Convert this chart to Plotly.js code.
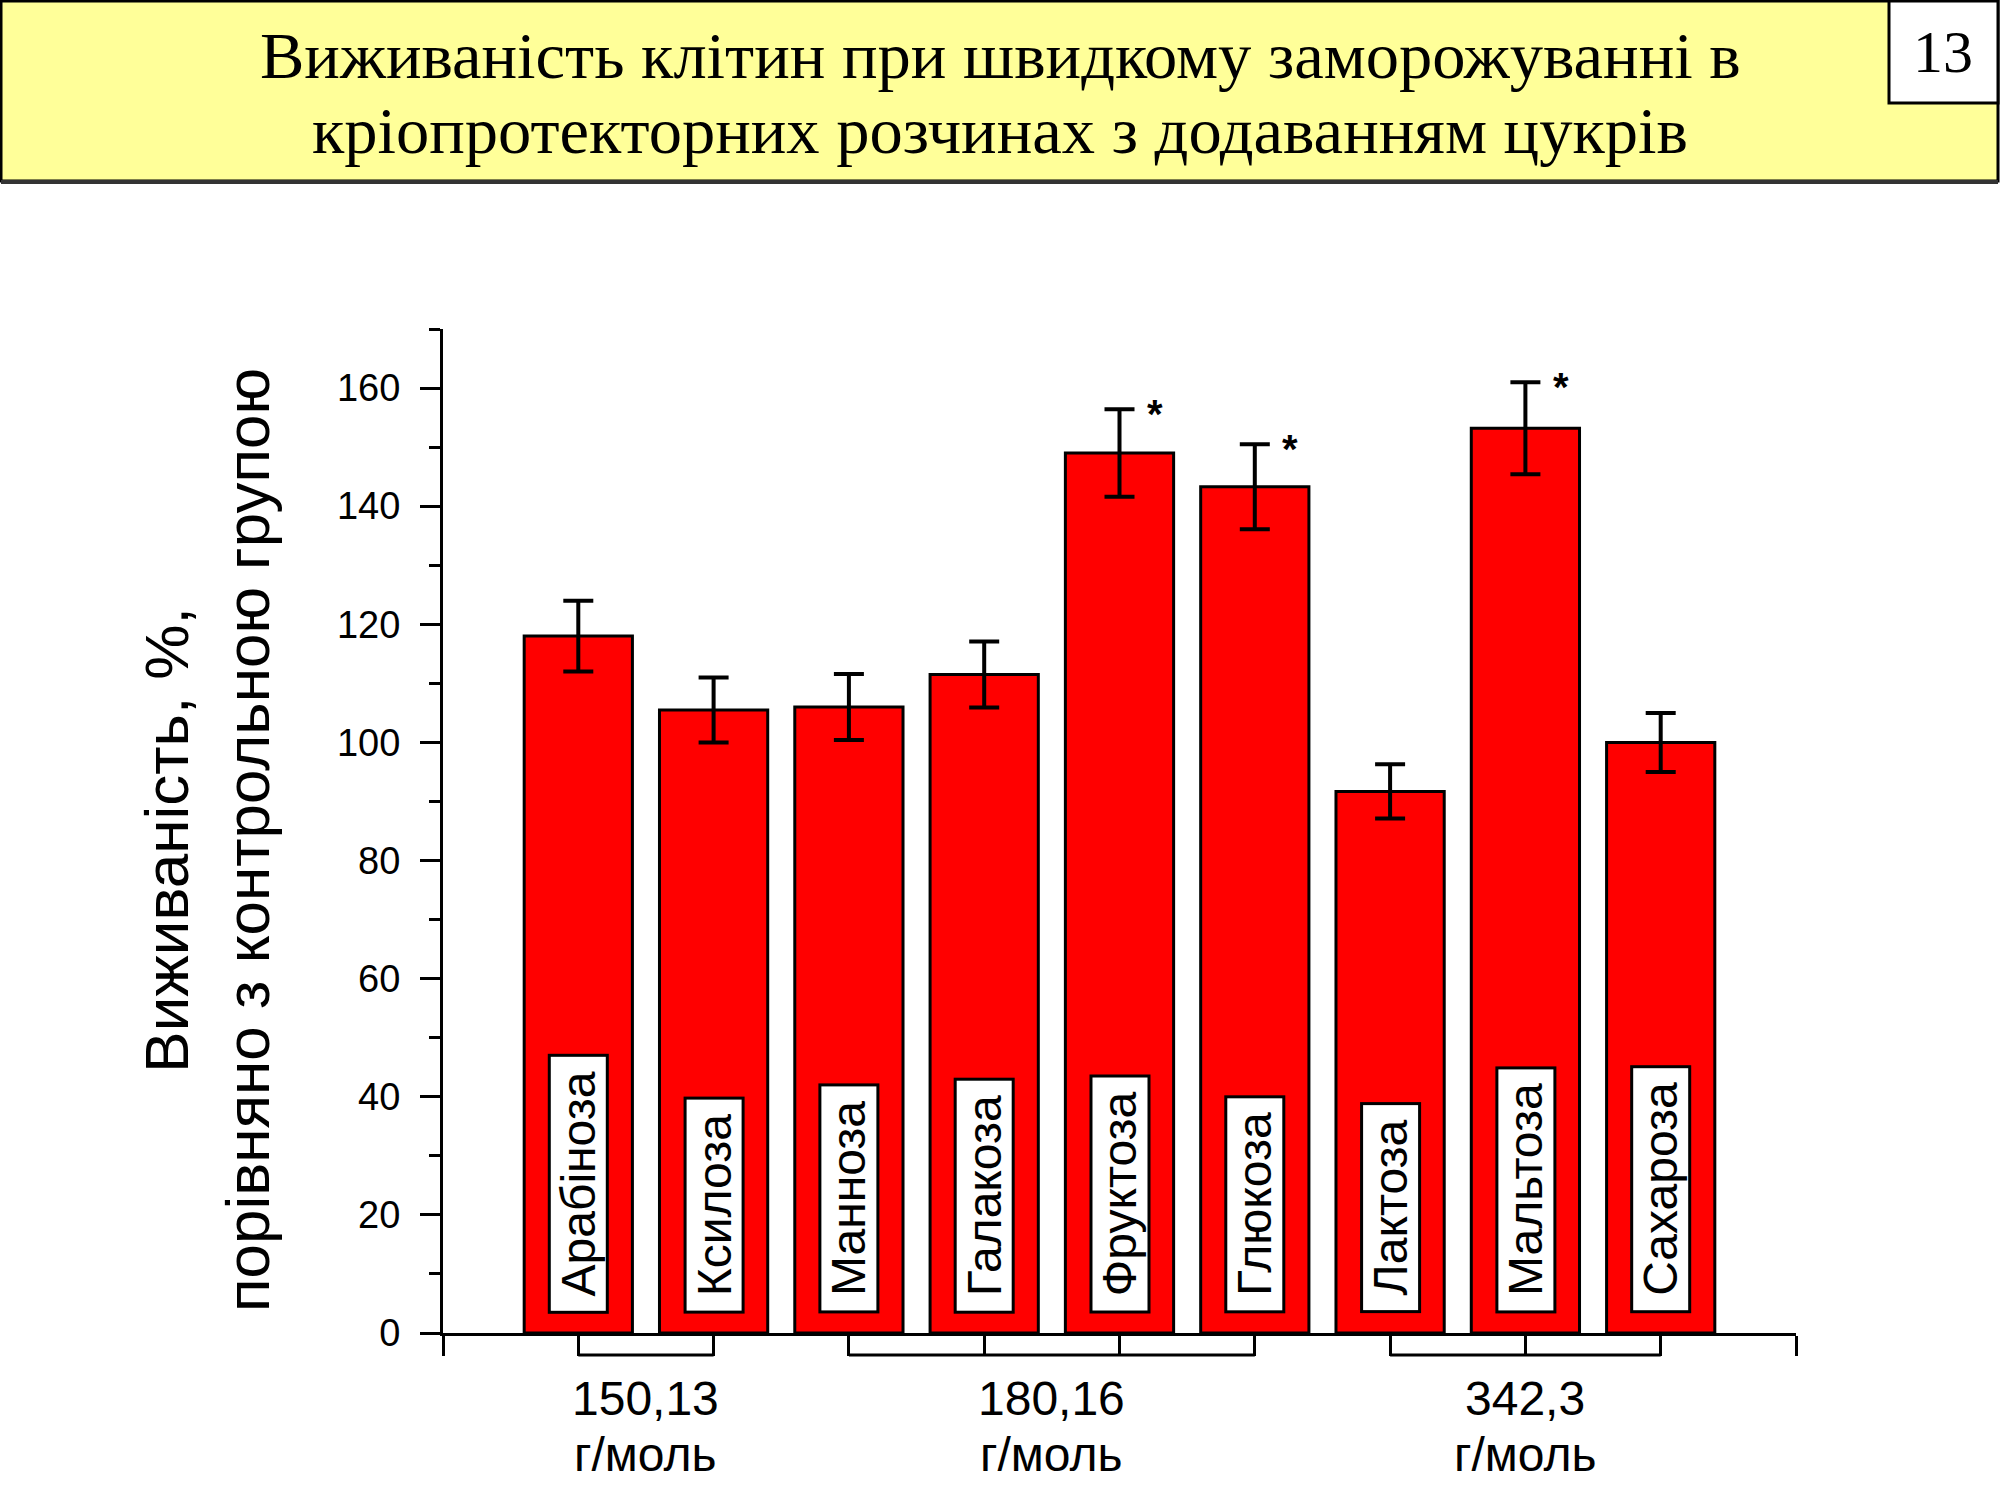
<!DOCTYPE html>
<html>
<head>
<meta charset="utf-8">
<script src="https://cdn.plot.ly/plotly-3.0.1.min.js"></script>
<style>
  body { margin: 0; background: white; }
  #plot { width: 2000px; height: 1500px; }
</style>
</head>
<body>
<div id="plot"></div>
<script>
// data
let sugars = ["Арабіноза", "Ксилоза", "Манноза", "Галакоза", "Фруктоза", "Глюкоза", "Лактоза", "Мальтоза", "Сахароза"]
let survival = [118, 105.5, 106, 111.5, 149, 143.3, 91.7, 153.2, 100]
let errors = [6, 5.5, 5.6, 5.6, 7.4, 7.2, 4.6, 7.8, 5]
let significant = [false, false, false, false, true, true, false, true, false]
// molar mass groups: first and last sugar index of each bracket
let groupStart = [0, 2, 6]
let groupEnd = [1, 5, 8]
let groupMass = ["150,13", "180,16", "342,3"]
let groupUnit = "г/моль"
let yTicks = [0, 20, 40, 60, 80, 100, 120, 140, 160]

let titleLines = ["Виживаність клітин при швидкому заморожуванні в", "кріопротекторних розчинах з додаванням цукрів"]
let slideNumber = "13"
let yTitle = "Виживаність, %,<br>порівняно з контрольною групою"

const W = 2000, H = 1500
const M = {l: 443, r: 204, t: 329, b: 167}
// page pixels -> paper coordinates
function px(x){ return (x - M.l) / (W - M.l - M.r) }
function py(y){ return (H - M.b - y) / (H - M.t - M.b) }

let sans = "Liberation Sans, Arial, sans-serif"
let serif = "Liberation Serif, Times New Roman, serif"

let xs = sugars.map((s, i) => i + 1)
let allTicks = []
for (let i = 0; i <= sugars.length + 1; i++) allTicks.push(i)

let data = [{
    type: "bar",
    x: xs,
    y: survival,
    width: 0.8,
    marker: {color: "#FF0000", line: {color: "black", width: 3}},
    error_y: {type: "data", array: errors, visible: true, color: "black", thickness: 4, width: 15},
    hoverinfo: "none"
}]

let annotations = []
let shapes = []

// sugar name boxes inside bars
for (let i = 0; i < sugars.length; i++){
    annotations.push({
        x: xs[i], y: 3.3, xref: "x", yref: "y",
        text: " " + sugars[i] + " ",
        textangle: -90,
        showarrow: false,
        xanchor: "center", yanchor: "bottom",
        bgcolor: "white", bordercolor: "black", borderwidth: 3, borderpad: 1,
        font: {family: sans, size: 48, color: "black"}
    })
    if (significant[i]){
        annotations.push({
            x: xs[i] + 0.26, y: survival[i] + errors[i], xref: "x", yref: "y",
            text: "<b>*</b>", showarrow: false,
            xanchor: "center", yanchor: "middle", yshift: -5,
            font: {family: sans, size: 40, color: "black"}
        })
    }
}

// brackets and molar mass labels under the axis
for (let g = 0; g < groupMass.length; g++){
    let a = xs[groupStart[g]], b = xs[groupEnd[g]]
    shapes.push({
        type: "line", xref: "x", yref: "paper", ysizemode: "pixel", yanchor: 0,
        x0: a, x1: b, y0: -22, y1: -22,
        line: {color: "black", width: 3}
    })
    annotations.push({
        x: (a + b) / 2, y: 0, xref: "x", yref: "paper", yanchor: "middle", yshift: -65,
        text: groupMass[g], showarrow: false,
        font: {family: sans, size: 48, color: "black"}
    })
    annotations.push({
        x: (a + b) / 2, y: 0, xref: "x", yref: "paper", yanchor: "middle", yshift: -121,
        text: groupUnit, showarrow: false,
        font: {family: sans, size: 48, color: "black"}
    })
}

// y axis title
annotations.push({
    x: 0, y: py(840), xref: "paper", yref: "paper",
    xanchor: "right", yanchor: "middle", xshift: -159,
    text: yTitle, textangle: -90, showarrow: false, align: "center",
    font: {family: sans, size: 62, color: "black"}
})

// slide banner
shapes.push({
    type: "rect", xref: "paper", yref: "paper", layer: "below",
    x0: px(1), x1: px(1998), y0: py(1), y1: py(181),
    fillcolor: "#FFFF99", line: {color: "black", width: 3}
})
shapes.push({
    type: "line", xref: "paper", yref: "paper",
    x0: px(1), x1: px(1998), y0: py(182), y1: py(182),
    line: {color: "#333333", width: 4}
})
shapes.push({
    type: "rect", xref: "paper", yref: "paper",
    x0: px(1889), x1: px(1998), y0: py(1), y1: py(103),
    fillcolor: "white", line: {color: "black", width: 3}
})
annotations.push({
    x: px(1943), y: py(52), xref: "paper", yref: "paper",
    xanchor: "center", yanchor: "middle",
    text: slideNumber, showarrow: false,
    font: {family: serif, size: 60, color: "black"}
})
let titleY = [55, 131]
for (let k = 0; k < titleLines.length; k++){
    annotations.push({
        x: px(1000), y: py(titleY[k]), xref: "paper", yref: "paper",
        xanchor: "center", yanchor: "middle",
        text: titleLines[k], showarrow: false,
        font: {family: serif, size: 66.5, color: "black"}
    })
}

let layout = {
    width: W, height: H,
    margin: M,
    paper_bgcolor: "white", plot_bgcolor: "white",
    showlegend: false,
    xaxis: {
        range: [0, sugars.length + 1],
        tickvals: allTicks,
        showticklabels: false,
        ticks: "outside", ticklen: 20, tickwidth: 3, tickcolor: "black",
        showline: true, linewidth: 3, linecolor: "black",
        showgrid: false, zeroline: false, fixedrange: true
    },
    yaxis: {
        range: [0, 170],
        tickvals: yTicks,
        ticks: "outside", ticklen: 20, tickwidth: 3, tickcolor: "black",
        minor: {dtick: 10, ticks: "outside", ticklen: 11, tickwidth: 3, tickcolor: "black"},
        showline: true, linewidth: 3, linecolor: "black",
        showgrid: false, zeroline: false,
        tickfont: {family: sans, size: 38, color: "black"},
        ticklabelstandoff: 12,
        fixedrange: true
    },
    annotations: annotations,
    shapes: shapes
}

Plotly.newPlot("plot", data, layout, {staticPlot: true})
</script>
</body>
</html>
